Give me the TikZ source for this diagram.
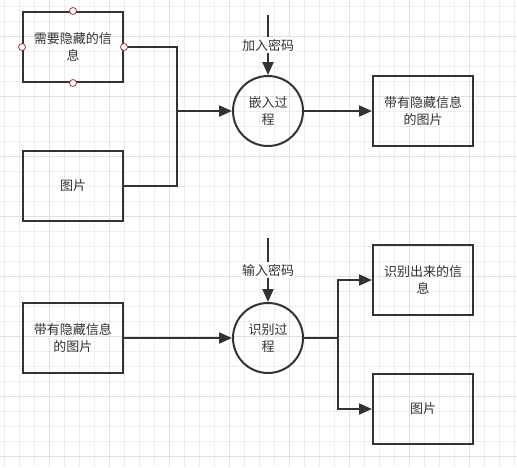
\documentclass[tikz,border=0pt]{standalone}
\usepackage{fontspec}
\setmainfont{Noto Sans CJK SC}
\usetikzlibrary{arrows.meta, positioning}
\definecolor{ink}{HTML}{333333}
\definecolor{gridminor}{HTML}{EEEEEE}
\definecolor{gridmajor}{HTML}{E0E0E0}
\definecolor{handlered}{HTML}{A33A3A}

\begin{document}
\begin{tikzpicture}[
  x=1pt, y=-1pt,
  block/.style = {draw=ink, line width=2pt, minimum height=70pt, minimum width=100pt, inner sep=0pt, align=center},
  proc/.style = {draw=ink, line width=2pt, circle, minimum size=70pt, inner sep=0pt, align=center},
  line/.style = {draw=ink, line width=2pt},
  arrow/.style = {line, -{Triangle[length=13pt, width=11pt]}},
  keylabel/.style = {fill=white, inner sep=1.5pt},
  handle/.style = {circle, draw=handlered, fill=white, line width=0.8pt, minimum size=7pt, inner sep=0pt},
  every node/.append style = {font=\fontsize{13}{16.5}\selectfont, text=ink},
  node distance=67pt and 108pt
]

  % Canvas and grid
  \useasboundingbox (0,0) rectangle (517,467);
  \fill[white] (0,0) rectangle (517,467);
  \foreach \gx in {4.3,19.3,...,517} \draw[gridminor, line width=1pt] (\gx,0) -- (\gx,467);
  \foreach \gy in {6.5,21.5,...,467} \draw[gridminor, line width=1pt] (0,\gy) -- (517,\gy);
  \foreach \gx in {49.3,109.3,...,517} \draw[gridmajor, line width=1pt] (\gx,0) -- (\gx,467);
  \foreach \gy in {36.5,96.5,...,467} \draw[gridmajor, line width=1pt] (0,\gy) -- (517,\gy);

  % Embedding
  \node[block] (secret) at (73,47) {需要隐藏的信\\息};
  \node[block, below=of secret] (cover) {图片};
  \node[proc] (embed) at (268,111) {嵌入过\\程};
  \node[block, right=68pt of embed] (stego) {带有隐藏信息\\的图片};
  \coordinate[left=55pt of embed.west] (merge);
  \coordinate[above=60pt of embed.north] (key1);

  \draw[line] (secret.east) -| (merge) |- (cover.east);
  \draw[arrow] (merge) -- (embed.west);
  \draw[arrow] (key1) -- node[keylabel] {加入密码} (embed.north);
  \draw[arrow] (embed.east) -- (stego.west);

  % selection handles
  \foreach \side in {north,south,east,west}
    \node[handle] at (secret.\side) {};

  % Extraction
  \node[block] (stegoin) at (73,338) {带有隐藏信息\\的图片};
  \node[proc, right=of stegoin] (recog) {识别过\\程};
  \node[block] (msgout) at (423,280) {识别出来的信\\息};
  \node[block] (imgout) at (423,409) {图片};
  \coordinate[above=64pt of recog.north] (key2);
  \coordinate[right=34pt of recog.east] (split);

  \draw[arrow] (stegoin.east) -- (recog.west);
  \draw[arrow] (key2) -- node[keylabel] {输入密码} (recog.north);
  \draw[line] (recog.east) -- (split);
  \draw[arrow] (split) |- (msgout.west);
  \draw[arrow] (split) |- (imgout.west);

\end{tikzpicture}
\end{document}
